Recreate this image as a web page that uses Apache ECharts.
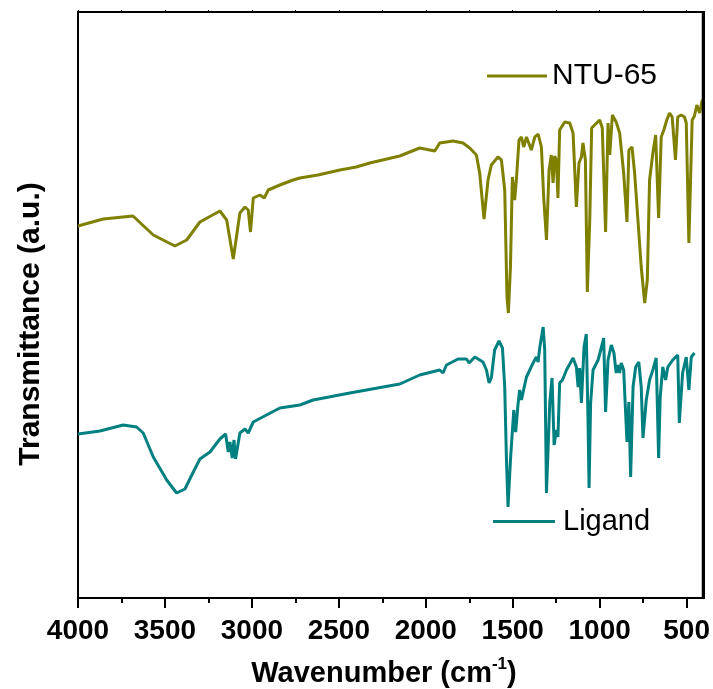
<!DOCTYPE html>
<html>
<head>
<meta charset="utf-8">
<script src="https://cdn.jsdelivr.net/npm/echarts@6/dist/echarts.min.js"></script>
<style>
  html, body { margin: 0; padding: 0; background: #fff; overflow: hidden; }
  #chart { width: 713px; height: 689px; }
</style>
</head>
<body>
<div id="chart"></div>
<script>
// Wavenumber axis tick labels
const majorTicks = [4000, 3500, 3000, 2500, 2000, 1500, 1000, 500];
const minorTicks = [3750, 3250, 2750, 2250, 1750, 1250, 750];

// NTU-65 spectrum (wavenumber, transmittance a.u.)
const ntuWavenumber = [4000,3855,3684,3567,3443,3375,3299,3184,3145,3107,3069,3040,3021,3008,2992,2954,2929,2906,2839,2763,2724,2620,2494,2400,2322,2150,2035,1948,1920,1843,1786,1747,1709,1690,1665,1642,1623,1585,1565,1546,1533,1525,1513,1502,1489,1479,1464,1450,1437,1421,1393,1373,1354,1335,1322,1306,1291,1278,1268,1259,1249,1240,1230,1201,1172,1153,1134,1119,1105,1096,1082,1071,1057,1046,1000,985,966,952,942,927,905,885,862,843,832,814,799,780,761,741,726,713,694,678,669,661,646,631,614,598,583,564,551,531,512,502,487,468,455,441,425,410,402];
const ntuTransmittance = [37.2,37.9,38.2,36.3,35.2,35.8,37.6,38.7,37.8,33.9,38.5,39.1,38.8,36.6,40.0,40.3,40.0,40.8,41.3,41.8,42.0,42.3,42.8,43.1,43.5,44.2,45.0,44.7,45.5,45.7,45.5,45.0,44.3,42.5,37.9,41.8,43.3,44.1,43.8,40.8,30.1,28.5,33.1,42.1,39.8,41.8,45.8,46.1,45.1,46.1,44.8,46.1,46.4,45.1,40.1,35.8,42.8,44.3,41.5,44.2,43.8,40.0,46.8,47.6,47.5,46.5,39.1,43.5,44.1,45.5,43.8,30.6,37.8,47.0,47.8,47.0,36.6,47.5,44.3,48.3,47.6,46.5,42.5,37.6,44.8,45.1,42.5,37.8,33.1,29.5,31.8,41.8,44.5,46.3,46.5,38.0,46.1,46.8,47.8,48.5,48.1,43.8,48.1,48.3,48.1,47.5,35.5,47.8,48.2,49.3,48.5,49.8,49.7];

// Ligand spectrum (wavenumber, transmittance a.u.)
const ligandWavenumber = [4000,3874,3740,3663,3625,3567,3490,3433,3385,3337,3299,3241,3184,3151,3136,3126,3113,3103,3094,3069,3040,3021,2992,2916,2839,2724,2648,2437,2149,2035,1920,1901,1881,1814,1766,1751,1718,1671,1651,1636,1623,1604,1579,1559,1546,1536,1527,1513,1494,1483,1470,1460,1450,1421,1383,1364,1354,1344,1325,1316,1306,1287,1274,1262,1249,1240,1230,1214,1191,1153,1134,1124,1115,1105,1090,1077,1067,1061,1052,1038,1009,985,977,966,952,933,918,905,895,885,876,862,843,832,822,808,793,775,761,751,732,713,694,675,669,661,652,637,621,608,580,551,542,523,502,492,487,473,455];
const ligandTransmittance = [16.4,16.7,17.3,17.1,16.5,14.1,11.8,10.5,10.9,12.6,13.9,14.6,15.9,16.4,14.6,15.6,14.0,15.8,13.9,16.5,16.9,16.5,17.6,18.3,19.0,19.3,19.8,20.5,21.4,22.3,22.8,22.5,23.3,23.9,23.9,23.5,24.1,23.6,22.8,21.5,22.0,24.8,25.7,25.0,21.1,13.8,9.1,13.8,18.8,16.6,19.3,20.8,19.8,22.1,23.5,24.1,23.6,25.1,27.1,24.8,10.5,19.5,22.0,15.3,16.8,16.1,21.5,21.8,22.8,24.0,23.1,21.1,23.0,19.5,25.1,26.4,17.8,11.0,19.5,22.8,23.8,25.4,26.0,18.6,23.8,25.3,24.5,22.5,23.3,22.5,23.5,22.8,15.6,19.6,12.1,21.1,23.1,23.6,21.1,16.0,19.8,21.8,22.8,24.0,19.8,14.0,20.1,23.1,21.8,23.1,23.8,24.3,17.5,22.5,24.1,23.9,20.8,24.1,24.5];

const zip = (xs, ys) => xs.map((x, i) => [x, ys[i]]);

const chart = echarts.init(document.getElementById('chart'), null, { renderer: 'canvas' });
const FONT = 'Liberation Sans, Arial, sans-serif';
const gridBox = { left: 78, right: 9, top: 12, bottom: 91, containLabel: false, outerBoundsMode: 'none' };
const Y_MAX = 58.6;

const baseX = { type: 'value', min: 400, max: 4000, inverse: true, splitLine: { show: false } };
const lineSt = { color: '#000', width: 2 };

chart.setOption({
  animation: false,
  backgroundColor: '#ffffff',
  grid: [Object.assign({}, gridBox), Object.assign({}, gridBox)],
  xAxis: [
    Object.assign({}, baseX, {
      gridIndex: 0, position: 'bottom',
      axisLine: { show: true, onZero: false, lineStyle: lineSt },
      axisTick: { show: true, length: 10, inside: false, customValues: majorTicks, lineStyle: lineSt },
      axisLabel: { show: true, customValues: majorTicks, margin: 19, color: '#000', fontSize: 28, fontWeight: 'bold', fontFamily: FONT,
        formatter: (v) => String(v) }
    }),
    Object.assign({}, baseX, {
      gridIndex: 1, position: 'bottom',
      axisLine: { show: false, onZero: false },
      axisTick: { show: true, length: 5, inside: false, customValues: minorTicks, lineStyle: lineSt },
      axisLabel: { show: false }
    }),
    Object.assign({}, baseX, {
      gridIndex: 1, position: 'top',
      axisLine: { show: true, onZero: false, lineStyle: lineSt },
      axisTick: { show: true, length: 2, inside: false, customValues: majorTicks.concat(minorTicks), lineStyle: { color: '#000', width: 1 } },
      axisLabel: { show: false }
    })
  ],
  yAxis: [
    { type: 'value', gridIndex: 0, min: 0, max: Y_MAX, position: 'left',
      axisLine: { show: true, onZero: false, lineStyle: lineSt },
      axisTick: { show: false }, axisLabel: { show: false }, splitLine: { show: false } },
    { type: 'value', gridIndex: 1, min: 0, max: Y_MAX, position: 'right',
      axisLine: { show: true, onZero: false, lineStyle: lineSt },
      axisTick: { show: false }, axisLabel: { show: false }, splitLine: { show: false } }
  ],
  legend: [
    { data: ['NTU-65'], left: 487, top: 61, padding: 0, icon: 'rect', itemWidth: 60, itemHeight: 3, itemGap: 0,
      textStyle: { fontSize: 30, color: '#000', fontFamily: FONT } },
    { data: ['Ligand'], left: 493, top: 507, padding: 0, icon: 'rect', itemWidth: 62, itemHeight: 3, itemGap: 0,
      textStyle: { fontSize: 29, color: '#000', fontFamily: FONT, padding: [0, 0, 0, 3] } }
  ],
  series: [
    { name: 'NTU-65', type: 'line', xAxisIndex: 0, yAxisIndex: 0, showSymbol: false, symbol: 'none',
      data: zip(ntuWavenumber, ntuTransmittance), color: '#808000',
      lineStyle: { color: '#808000', width: 3 } },
    { name: 'Ligand', type: 'line', xAxisIndex: 0, yAxisIndex: 0, showSymbol: false, symbol: 'none',
      data: zip(ligandWavenumber, ligandTransmittance), color: '#008080',
      lineStyle: { color: '#008080', width: 3 } }
  ],
  graphic: [
    { id: 'ytitle', type: 'text', x: 31, y: 324, rotation: Math.PI / 2,
      style: { text: 'Transmittance (a.u.)', fontSize: 30, fontWeight: 'bold', fontFamily: FONT, fill: '#000',
        align: 'center', verticalAlign: 'middle' } },
    { id: 'xtitle', type: 'text', x: 384, y: 672,
      style: { text: '{a|Wavenumber (cm}{s|-1}{a|)}', align: 'center', verticalAlign: 'middle',
        rich: {
          a: { fontSize: 29, fontWeight: 'bold', fontFamily: FONT, fill: '#000', verticalAlign: 'bottom', lineHeight: 32 },
          s: { fontSize: 17, fontWeight: 'bold', fontFamily: FONT, fill: '#000', verticalAlign: 'top', lineHeight: 32 }
        } } }
  ]
});

// Right edge of the plot frame, derived from the axis scales
const pTR = chart.convertToPixel({ xAxisIndex: 0, yAxisIndex: 0 }, [400, Y_MAX]);
const pBR = chart.convertToPixel({ xAxisIndex: 0, yAxisIndex: 0 }, [400, 0]);
chart.setOption({
  graphic: [
    { id: 'rightEdge', type: 'line', z: 100, silent: true,
      shape: { x1: pTR[0] - 1, y1: pTR[1] - 1, x2: pBR[0] - 1, y2: pBR[1] + 1 },
      style: { stroke: '#000', lineWidth: 2.5 } }
  ]
});
</script>
</body>
</html>
